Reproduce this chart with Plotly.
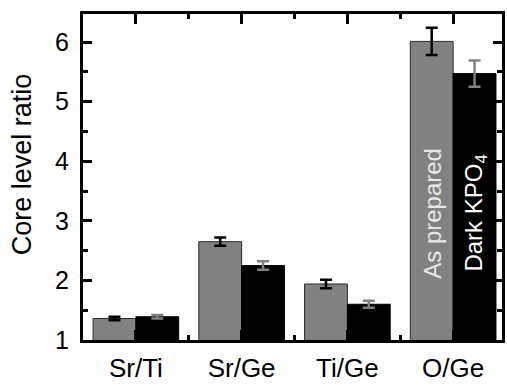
import plotly.graph_objects as go

categories = ["Sr/Ti", "Sr/Ge", "Ti/Ge", "O/Ge"]
as_prepared = [1.36, 2.65, 1.94, 6.01]
as_prepared_err = [0.03, 0.07, 0.07, 0.23]
dark_kpo4 = [1.39, 2.25, 1.60, 5.47]
dark_kpo4_err = [0.03, 0.07, 0.06, 0.22]
label_y = 3.13

FONT = "Arial, Liberation Sans, sans-serif"
x = list(range(len(categories)))
bargap = 0.19
bw = (1 - bargap) / 2

fig = go.Figure()
fig.add_trace(go.Bar(
    x=x, y=as_prepared, name="As prepared",
    marker=dict(color="#818181", line=dict(color="#2a2a2a", width=1)),
    error_y=dict(type="data", array=as_prepared_err, color="#000000", thickness=2.5, width=6),
))
fig.add_trace(go.Bar(
    x=x, y=dark_kpo4, name="Dark KPO4",
    marker=dict(color="#000000", line=dict(color="#000000", width=1)),
    error_y=dict(type="data", array=dark_kpo4_err, color="#808080", thickness=2.5, width=6),
))

last = x[-1]
fig.add_annotation(x=last - bw / 2, y=label_y, text="As prepared", textangle=-90,
                   showarrow=False, font=dict(family=FONT, size=24, color="#e6e6e6"))
fig.add_annotation(x=last + bw / 2, y=label_y, text="Dark KPO<sub>4</sub>", textangle=-90,
                   showarrow=False, font=dict(family=FONT, size=24, color="#ffffff"))
# y-axis title
fig.add_annotation(xref="paper", yref="paper", x=-0.1446, y=0.54, text="Core level ratio",
                   textangle=-90, showarrow=False, xanchor="center", yanchor="middle",
                   font=dict(family=FONT, size=27, color="#000000"))

fig.update_layout(
    width=507, height=385,
    margin=dict(l=83, r=2, t=14, b=34),
    paper_bgcolor="white", plot_bgcolor="white",
    barmode="group", bargap=bargap, bargroupgap=0,
    showlegend=False,
    font=dict(family=FONT, color="#000000"),
)
fig.update_xaxes(
    range=[-0.5, 3.462], tickvals=x, ticktext=categories,
    ticks="inside", ticklen=10, tickwidth=2.5, tickcolor="#000",
    minor=dict(tickvals=[0.5, 1.5, 2.5], ticks="inside", ticklen=5, tickwidth=2.5, tickcolor="#000"),
    showline=True, linewidth=3, linecolor="#000", mirror="allticks",
    showgrid=False, zeroline=False,
    tickfont=dict(size=26, family=FONT), ticklabelstandoff=3,
)
fig.update_yaxes(
    range=[1, 6.47], tickvals=[1, 2, 3, 4, 5, 6],
    ticks="inside", ticklen=9, tickwidth=2.5, tickcolor="#000",
    minor=dict(dtick=0.5, ticks="inside", ticklen=5, tickwidth=2.5, tickcolor="#000"),
    showline=True, linewidth=3, linecolor="#000", mirror="allticks",
    showgrid=False, zeroline=False,
    tickfont=dict(size=25, family=FONT), ticklabelstandoff=6,
)

fig.write_html("out.html")
